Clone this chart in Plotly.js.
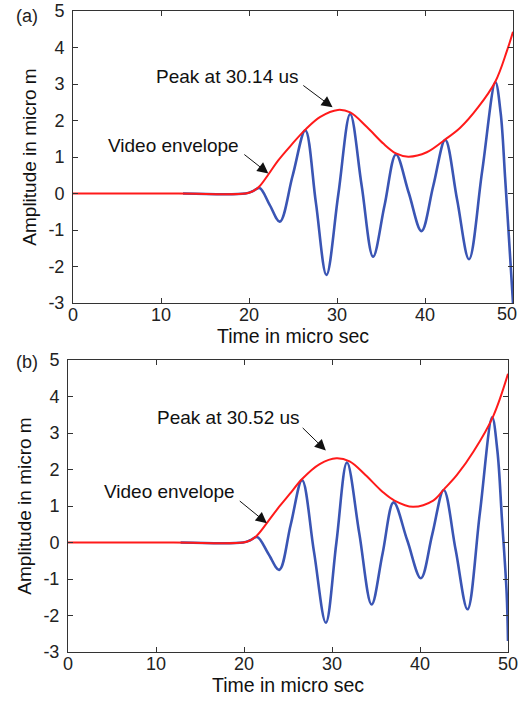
<!DOCTYPE html>
<html>
<head>
<meta charset="utf-8">
<script src="https://cdn.plot.ly/plotly-3.0.1.min.js"></script>
<style>html,body{margin:0;padding:0;background:#fff;}#chart{width:519px;height:702px;}</style>
</head>
<body>
<div id="chart"></div>
<script>
// ---------- Panel (a) ----------
const timeSignalA = [12.5, 19.6, 20.4, 21.2, 22.35, 23.5, 24.95, 26.4, 27.6, 28.8, 30.15, 31.5, 32.8, 34.1, 35.4, 36.7, 38.15, 39.6, 40.95, 42.3, 43.65, 45.0, 46.5, 48.0, 48.6, 49.1, 49.7, 50.0];
const signalA     = [0, 0, 0.06, 0.15, -0.31, -0.77, 0.48, 1.73, -0.25, -2.23, -0.02, 2.18, 0.22, -1.73, -0.33, 1.07, 0.02, -1.03, 0.22, 1.47, -0.17, -1.80, 0.62, 3.05, 2.2, 0.45, -1.84, -3.0];
const timeEnvA    = [0, 12, 19.6, 20.4, 21.2, 22.2, 23.3, 24.7, 26.4, 28.1, 30.1, 31.5, 33.4, 35.3, 36.7, 38.1, 40.2, 42.3, 44.0, 46.0, 48.0, 49.3, 50.0];
const envelopeA   = [0, 0, 0, 0.06, 0.2, 0.52, 0.9, 1.3, 1.75, 2.1, 2.29, 2.22, 1.82, 1.36, 1.1, 1.01, 1.13, 1.48, 1.8, 2.35, 3.07, 3.9, 4.43];

// ---------- Panel (b) ----------
const timeSignalB = [12.8, 19.9, 20.7, 21.5, 22.75, 24.0, 25.3, 26.6, 27.95, 29.3, 30.5, 31.7, 33.1, 34.5, 35.75, 37.0, 38.55, 40.1, 41.4, 42.7, 44.05, 45.4, 46.8, 48.2, 48.8, 49.3, 49.85, 50.0];
const signalB     = [0, 0, 0.06, 0.15, -0.30, -0.75, 0.48, 1.71, -0.25, -2.20, 0.0, 2.19, 0.25, -1.70, -0.30, 1.10, 0.06, -0.98, 0.23, 1.44, -0.20, -1.83, 0.80, 3.43, 2.5, 0.69, -1.4, -2.7];
const timeEnvB    = [0, 12, 19.9, 20.7, 21.5, 22.8, 24.0, 25.2, 26.6, 28.6, 30.5, 32.0, 33.8, 35.7, 37.1, 39.2, 41.5, 42.7, 44.2, 46.1, 48.3, 50.0];
const envelopeB   = [0, 0, 0, 0.06, 0.2, 0.6, 0.98, 1.33, 1.74, 2.15, 2.31, 2.22, 1.85, 1.4, 1.15, 0.98, 1.15, 1.45, 1.85, 2.5, 3.45, 4.62];

// ---------- Ticks & labels ----------
const xTickVals = [0, 10, 20, 30, 40, 50];
const xTickTextA = ['0', '10', '20', '30', '40', ''];   // last label of (a) drawn at the page edge below
const xTickTextB = ['0', '10', '20', '30', '40', '50'];
const xEdgeLabelA = '50';
const yTickVals = [-3, -2, -1, 0, 1, 2, 3, 4, 5];
const yTickText = ['-3', '-2', '-1', '0', '1', '2', '3', '4', '5'];
const xTitle = 'Time in micro sec';
const yTitle = 'Amplitude in micro m';
const peakLabelA = 'Peak at 30.14 us';
const peakLabelB = 'Peak at 30.52 us';
const envLabel = 'Video envelope';
const panelLabels = ['(a)', '(b)'];

const FONT = 'Liberation Sans, Arial, Helvetica, sans-serif';
const BLUE = '#3a55b4';
const RED = '#ff1a1a';
const W = 519, H = 702;

const traces = [
  {x: timeSignalA, y: signalA, xaxis: 'x', yaxis: 'y', mode: 'lines', line: {color: BLUE, width: 2.6, shape: 'spline', smoothing: 1}, hoverinfo: 'skip'},
  {x: timeEnvA, y: envelopeA, xaxis: 'x', yaxis: 'y', mode: 'lines', line: {color: RED, width: 2, shape: 'spline', smoothing: 1}, hoverinfo: 'skip'},
  {x: timeSignalB, y: signalB, xaxis: 'x2', yaxis: 'y2', mode: 'lines', line: {color: BLUE, width: 2.6, shape: 'spline', smoothing: 1}, hoverinfo: 'skip'},
  {x: timeEnvB, y: envelopeB, xaxis: 'x2', yaxis: 'y2', mode: 'lines', line: {color: RED, width: 2, shape: 'spline', smoothing: 1}, hoverinfo: 'skip'}
];

const tickFont = {family: FONT, size: 18, color: '#222'};

function xAx(domain, anchor, ticktext) {
  return {
    domain: domain, anchor: anchor, range: [0, 50], tickmode: 'array', tickvals: xTickVals, ticktext: ticktext,
    ticks: 'inside', ticklen: 5, tickcolor: '#333', tickwidth: 1, mirror: 'allticks', showline: true, linecolor: '#333', linewidth: 1,
    showgrid: false, zeroline: false, tickfont: tickFont, ticklabelstandoff: -5, ticklabeloverflow: 'allow',
    title: {text: xTitle, font: {family: FONT, size: 19.5, color: '#111'}, standoff: 0}
  };
}
function yAx(domain, anchor) {
  return {
    domain: domain, anchor: anchor, range: [-3, 5], tickmode: 'array', tickvals: yTickVals, ticktext: yTickText,
    ticks: 'inside', ticklen: 5, tickcolor: '#333', tickwidth: 1, mirror: 'allticks', showline: true, linecolor: '#333', linewidth: 1,
    showgrid: false, zeroline: false, tickfont: tickFont, ticklabelstandoff: 4, ticklabeloverflow: 'allow',
    title: {text: yTitle, font: {family: FONT, size: 19, color: '#111'}, standoff: 6}
  };
}

const arrowStyle = {showarrow: true, arrowhead: 2, arrowsize: 2.2, arrowwidth: 1, arrowcolor: '#111', standoff: 0, startstandoff: 0, text: ''};
const textFont = {family: FONT, size: 19, color: '#111'};
const panelFont = {family: FONT, size: 18, color: '#222'};

const annotations = [
  {xref: 'paper', yref: 'paper', x: 27 / W, y: 1 - 16 / H, xanchor: 'center', yanchor: 'middle', text: panelLabels[0], showarrow: false, font: panelFont},
  {xref: 'paper', yref: 'paper', x: 27 / W, y: 1 - 362 / H, xanchor: 'center', yanchor: 'middle', text: panelLabels[1], showarrow: false, font: panelFont},
  {xref: 'paper', yref: 'paper', x: 1, y: 1 - 314 / H, xanchor: 'right', yanchor: 'middle', text: xEdgeLabelA, showarrow: false, font: tickFont},
  // (a)
  {xref: 'x', yref: 'y', x: 17.6, y: 3.2, text: peakLabelA, showarrow: false, font: textFont},
  Object.assign({xref: 'x', yref: 'y', axref: 'x', ayref: 'y', x: 29.5, y: 2.36, ax: 26.0, ay: 2.99}, arrowStyle),
  {xref: 'x', yref: 'y', x: 11.4, y: 1.32, text: envLabel, showarrow: false, font: textFont},
  Object.assign({xref: 'x', yref: 'y', axref: 'x', ayref: 'y', x: 22.2, y: 0.55, ax: 19.3, ay: 1.1}, arrowStyle),
  // (b)
  {xref: 'x2', yref: 'y2', x: 18.2, y: 3.42, text: peakLabelB, showarrow: false, font: textFont},
  Object.assign({xref: 'x2', yref: 'y2', axref: 'x2', ayref: 'y2', x: 29.3, y: 2.52, ax: 26.5, ay: 3.18}, arrowStyle),
  {xref: 'x2', yref: 'y2', x: 11.5, y: 1.41, text: envLabel, showarrow: false, font: textFont},
  Object.assign({xref: 'x2', yref: 'y2', axref: 'x2', ayref: 'y2', x: 22.6, y: 0.53, ax: 19.35, ay: 1.17}, arrowStyle)
];

const layout = {
  width: W, height: H, margin: {l: 0, r: 0, t: 0, b: 0},
  paper_bgcolor: '#fff', plot_bgcolor: '#fff', showlegend: false,
  font: {family: FONT, color: '#222'},
  xaxis: xAx([73 / W, 513 / W], 'y', xTickTextA),
  yaxis: yAx([1 - 303 / H, 1 - 11 / H], 'x'),
  xaxis2: xAx([68 / W, 508 / W], 'y2', xTickTextB),
  yaxis2: yAx([1 - 652 / H, 1 - 360 / H], 'x2'),
  annotations: annotations
};

Plotly.newPlot('chart', traces, layout, {displayModeBar: false, staticPlot: true});
</script>
</body>
</html>
